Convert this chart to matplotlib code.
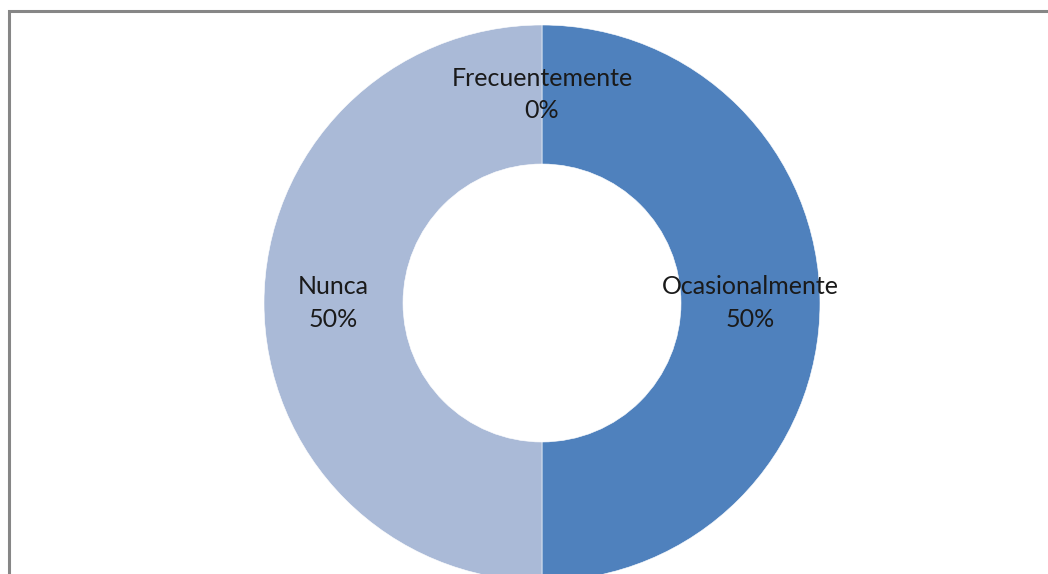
import matplotlib.pyplot as plt
from matplotlib.patches import Rectangle

# Data
categories = ['Frecuentemente', 'Ocasionalmente', 'Nunca']
values = [0, 50, 50]
colors = ['#C0504D', '#4F81BD', '#AABAD7']

W, H = 1048, 574
fig = plt.figure(figsize=(W / 100, H / 100), dpi=100)
ax = fig.add_axes([0, 0, 1, 1])
ax.set_xlim(0, W)
ax.set_ylim(0, H)
ax.set_aspect('equal')
ax.axis('off')

total = sum(values)
labels = [f"{c}\n{round(v / total * 100)}%" for c, v in zip(categories, values)]

outer_r = 278
inner_r = 139
wedges, texts = ax.pie(values, colors=colors, labels=labels,
                       startangle=90, counterclock=False,
                       center=(542, H - 303), radius=outer_r,
                       labeldistance=(outer_r + inner_r) / 2 / outer_r,
                       wedgeprops=dict(width=outer_r - inner_r, edgecolor='white', linewidth=0.4),
                       textprops=dict(fontsize=18, family='Lato', color='#1a1a1a',
                                      linespacing=1.5))
for t in texts:
    t.set_ha('center')
    t.set_va('center')

ax.set_xlim(0, W)
ax.set_ylim(0, H)

# chart area border
fig.patches.append(Rectangle((9 / W, -0.1), 1.2, (H - 11) / H + 0.1,
                             transform=fig.transFigure, fill=False,
                             edgecolor='#868686', linewidth=2.2))

fig.savefig('out.png', dpi=100, facecolor='white')
